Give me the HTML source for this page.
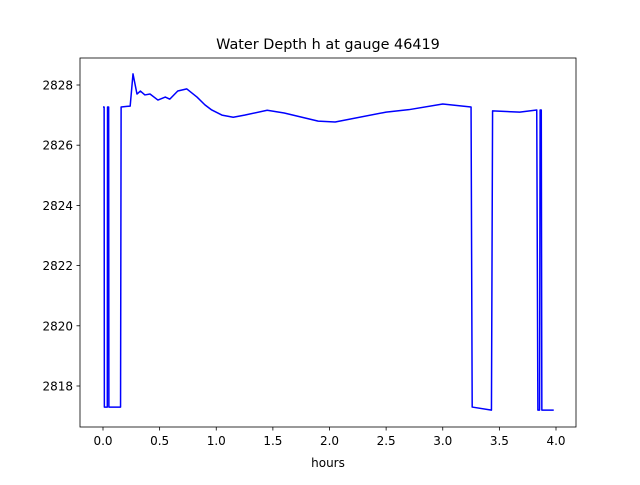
<!DOCTYPE html>
<html><head><meta charset="utf-8"><style>
body{margin:0;background:#fff;}
svg text{font-family:"DejaVu Sans","Liberation Sans",sans-serif;fill:#000;}
</style></head><body>
<svg width="640" height="480" xmlns="http://www.w3.org/2000/svg">
<rect width="640" height="480" fill="#fff"/>
<text x="328" y="49" text-anchor="middle" font-size="14.4">Water Depth h at gauge 46419</text>
<g id="xt"></g>
<g id="yt"></g>
<path id="line" fill="none" stroke="#0000ff" stroke-width="1.5" stroke-linejoin="round"/>
<rect x="80" y="58" width="496" height="369" fill="none" stroke="#000" stroke-width="0.8"/>
<text x="328" y="467" text-anchor="middle" font-size="12">hours</text>
</svg>
<script>
const times=[0,0.01,0.012,0.038,0.04,0.05,0.052,0.155,0.16,0.24,0.265,0.30,0.33,0.37,0.415,0.485,0.55,0.59,0.66,0.74,0.83,0.90,0.96,1.05,1.15,1.25,1.45,1.6,1.9,2.05,2.5,2.7,3.0,3.25,3.26,3.43,3.44,3.68,3.83,3.84,3.855,3.86,3.87,3.875,3.98];
const depths=[2827.27,2827.27,2817.3,2817.3,2827.27,2827.27,2817.3,2817.3,2827.27,2827.3,2828.37,2827.7,2827.8,2827.67,2827.7,2827.5,2827.6,2827.53,2827.8,2827.87,2827.6,2827.34,2827.17,2827.0,2826.93,2827.0,2827.16,2827.07,2826.8,2826.77,2827.1,2827.18,2827.37,2827.27,2817.3,2817.2,2827.14,2827.1,2827.17,2817.2,2817.2,2827.17,2827.17,2817.2,2817.2];
const xTicks=[0,0.5,1,1.5,2,2.5,3,3.5,4];
const xLabels=["0.0","0.5","1.0","1.5","2.0","2.5","3.0","3.5","4.0"];
const yTicks=[2818,2820,2822,2824,2826,2828];
const xs=t=>103+t*113.25;
const ys=v=>85+(2828-v)*30.1;
const NS="http://www.w3.org/2000/svg";
const xt=document.getElementById('xt'),yt=document.getElementById('yt');
xTicks.forEach((t,i)=>{
 const l=document.createElementNS(NS,'line');
 
 
 l.setAttribute('x1',xs(t));l.setAttribute('x2',xs(t));l.setAttribute('y1',427);l.setAttribute('y2',430.5);l.setAttribute('stroke','#000');l.setAttribute('stroke-width','0.8');
 xt.appendChild(l);
 const tx=document.createElementNS(NS,'text');
 
 
 tx.setAttribute('x',xs(t));tx.setAttribute('y',445);tx.setAttribute('text-anchor','middle');tx.setAttribute('font-size','12');
 tx.textContent=xLabels[i];xt.appendChild(tx);
});
yTicks.forEach(v=>{
 const l=document.createElementNS(NS,'line');
 
 
 l.setAttribute('x1',76.5);l.setAttribute('x2',80);l.setAttribute('y1',ys(v));l.setAttribute('y2',ys(v));l.setAttribute('stroke','#000');l.setAttribute('stroke-width','0.8');
 yt.appendChild(l);
 const tx=document.createElementNS(NS,'text');
 
 
 tx.setAttribute('x',73);tx.setAttribute('y',ys(v)+4.5);tx.setAttribute('text-anchor','end');tx.setAttribute('font-size','12');
 tx.textContent=v;yt.appendChild(tx);
});
document.getElementById('line').setAttribute('d',times.map((t,i)=>(i?'L':'M')+xs(t).toFixed(2)+' '+ys(depths[i]).toFixed(2)).join(' '));
</script>
</body></html>
